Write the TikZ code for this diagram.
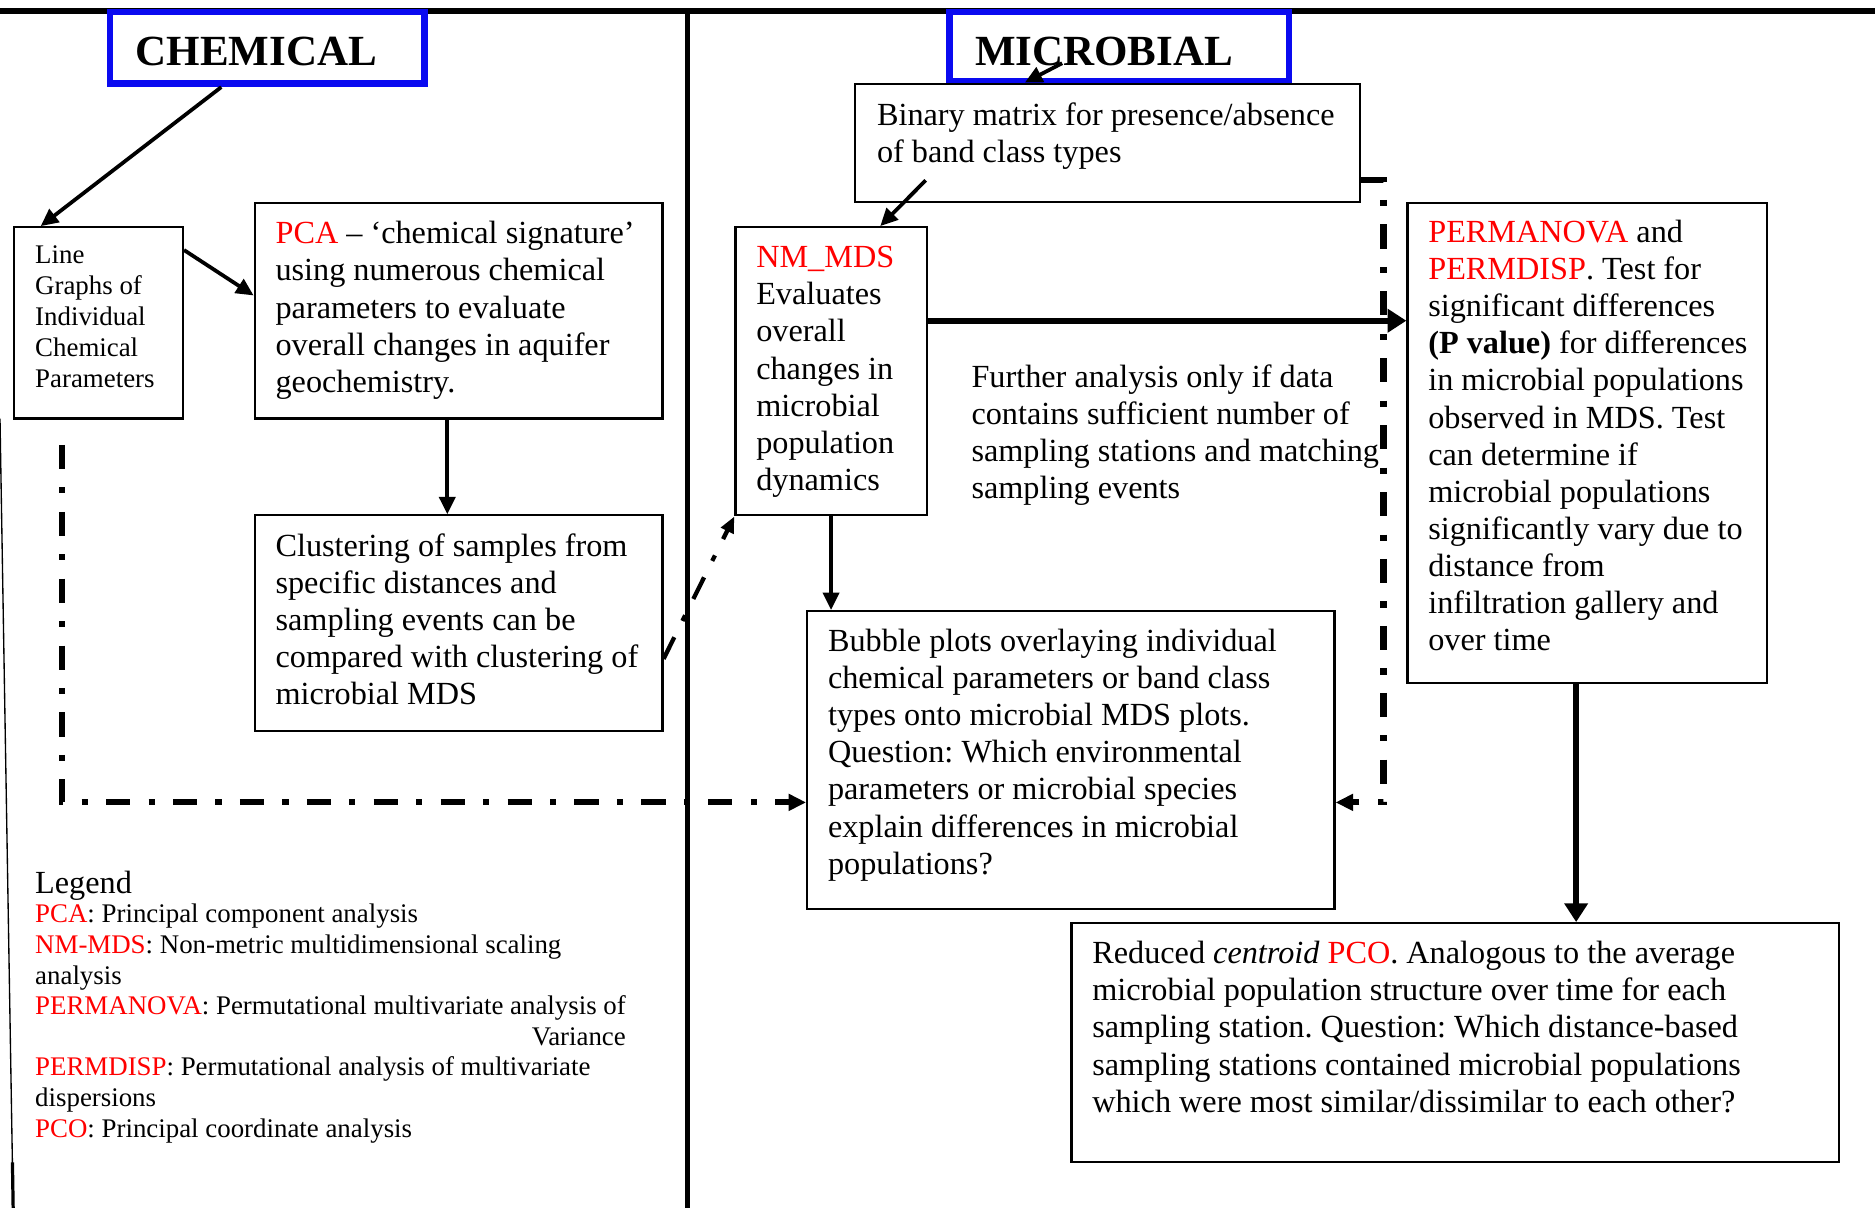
\documentclass[tikz,border=0pt]{standalone}
\usepackage{fontspec}
\setmainfont{Liberation Serif}
\usetikzlibrary{arrows.meta, fit}
\definecolor{hdrblue}{RGB}{10,10,240}
\definecolor{abbrred}{RGB}{255,0,0}
\newcommand{\abr}[1]{\textcolor{abbrred}{#1}}
\frenchspacing

\begin{document}
\begin{tikzpicture}[
    x=0.445pt, y=-0.445pt,
    boxfr/.style={draw, line width=0.8pt, inner sep=0pt},
    hdr/.style={draw=hdrblue, line width=2.5pt, inner sep=0pt},
    % base of a multi-line text = baseline of its last line
    txt/.style={anchor=base west, align=left, inner sep=0pt,
                font=\fontsize{12}{13.8}\selectfont},
    smalltxt/.style={txt, font=\fontsize{10}{11.5}\selectfont},
    hdrtxt/.style={txt, font=\fontsize{16}{18}\selectfont\bfseries},
    arw/.style={-{Triangle[length=6.5pt, width=6pt]}, line width=1.4pt},
    bigarw/.style={-{Triangle[length=7pt, width=8.5pt]}, line width=2.2pt},
    dshdt/.style={line width=2.3pt, dash pattern=on 9pt off 6.8pt on 2.3pt off 6.8pt}
  ]
    \useasboundingbox (0,0) rectangle (1568,1010);

    % frame lines
    \draw[line width=2.1pt] (0,9) -- (1568,9);
    \draw[line width=2.1pt] (575,9) -- (575,1010);
    \draw[line width=0.5pt] (0,350) -- (11,1010);
    \draw[line width=1.2pt] (10.4,972) -- (11,1010);

    % headers
    \node[hdr, fit={(92,10) (355,70)}]  (chemhdr)  {};
    \node[hdrtxt] at (113,55) {CHEMICAL};
    \node[hdr, fit={(794,10) (1078,68)}] (microhdr) {};
    \node[hdrtxt] at (815,55) {MICROBIAL};

    % chemical side
    \node[boxfr, fit={(12,190) (153,350)}] (linegr) {};
    \node[smalltxt] at (29,324) {Line\\Graphs of\\Individual\\Chemical\\Parameters};

    \node[boxfr, fit={(213,170) (554,350)}] (pca) {};
    \node[txt] at (230,328) {\abr{PCA} -- `chemical signature'\\using numerous chemical\\parameters to evaluate\\overall changes in aquifer\\geochemistry.};

    \node[boxfr, fit={(213,431) (554,611)}] (clust) {};
    \node[txt] at (230,589) {Clustering of samples from\\specific distances and\\sampling events can be\\compared with clustering of\\microbial MDS};

    % microbial side
    \node[boxfr, fit={(715,70) (1137,169)}] (binmat) {};
    \node[txt] at (733,136) {Binary matrix for presence/absence\\of band class types};

    \node[boxfr, fit={(615,190) (775,431)}] (nmmds) {};
    \node[txt] at (632,410) {\abr{NM\_MDS}\\Evaluates\\overall\\changes in\\microbial\\population\\dynamics};

    \node[txt] (further) at (812,417) {Further analysis only if data\\contains sufficient number of\\sampling stations and matching\\sampling events};

    \node[boxfr, fit={(1177,170) (1478,571)}] (perm) {};
    \node[txt] at (1194,544) {\abr{PERMANOVA} and\\\abr{PERMDISP}. Test for\\significant differences\\\textbf{(P value)} for differences\\in microbial populations\\observed in MDS. Test\\can determine if\\microbial populations\\significantly vary due to\\distance from\\infiltration gallery and\\over time};

    \node[boxfr, fit={(675,511) (1116,760)}] (bubble) {};
    \node[txt] at (692,731) {Bubble plots overlaying individual\\chemical parameters or band class\\types onto microbial MDS plots.\\Question: Which environmental\\parameters or microbial species\\explain differences in microbial\\populations?};

    \node[boxfr, fit={(896,772) (1538,972)}] (pco) {};
    \node[txt] at (913,930) {Reduced \textit{centroid} \abr{PCO}. Analogous to the average\\microbial population structure over time for each\\sampling station. Question: Which distance-based\\sampling stations contained microbial populations\\which were most similar/dissimilar to each other?};

    % legend
    \node[txt] (leghead) at (29,747) {Legend};
    \node[smalltxt, font=\fontsize{10}{11.4}\selectfont] (legend) at (29,951) {\abr{PCA}: Principal component analysis\\
      \abr{NM-MDS}: Non-metric multidimensional scaling\\analysis\\
      \abr{PERMANOVA}: Permutational multivariate analysis of\\
      \hphantom{PERMANOVA: Permutational multivariate analysis of}\llap{Variance}\\
      \abr{PERMDISP}: Permutational analysis of multivariate\\dispersions\\
      \abr{PCO}: Principal coordinate analysis};

    % connectors
    \draw[arw] ([xshift=-17.1pt]chemhdr.south) -- ([xshift=10.2pt]linegr.north west);
    \draw[arw] ([xshift=43.2pt, yshift=8pt]microhdr.south west) -- ([xshift=63.6pt]binmat.north west);
    \draw[arw] ([xshift=26.7pt, yshift=8.5pt]binmat.south west) -- ([xshift=54.3pt]nmmds.north west);
    \draw[arw] ([yshift=-8.9pt]linegr.north east) -- ([yshift=-34.7pt]pca.north west);
    \draw[arw] ([xshift=-4.2pt]pca.south) -- ([xshift=-4.2pt]clust.north);
    \draw[arw] (nmmds.south) -- (nmmds.south |- bubble.north);
    \draw[dshdt, line width=1.6pt, -{Triangle[length=6pt, width=5pt]}]
      ([yshift=27.1pt]clust.south east) -- (nmmds.south west);

    \coordinate (nmout) at ([yshift=-35.2pt]nmmds.north east);
    \draw[bigarw] (nmout) -- (nmout -| perm.west);
    \coordinate (permout) at ([xshift=-4.2pt]perm.south);
    \draw[bigarw] (permout) -- (permout |- pco.north);

    \coordinate (rdd) at (1157,671);
    \draw[dshdt, -{Triangle[length=6.5pt, width=6pt]}]
      ([yshift=8.5pt]binmat.south east) -| (rdd) -- (rdd -| bubble.east);
    \coordinate (ldd0) at (52,372);
    \coordinate (ldd1) at (52,671);
    \draw[dshdt, -{Triangle[length=6.5pt, width=6pt]}]
      (ldd0) -- (ldd1) -- (ldd1 -| bubble.west);
\end{tikzpicture}
\end{document}
